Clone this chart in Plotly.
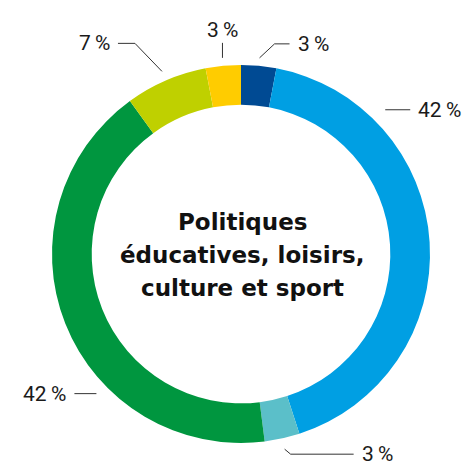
import math
import plotly.graph_objects as go

# ---- data ----
categories = ["A", "B", "C", "D", "E", "F"]
values = [3, 42, 3, 42, 7, 3]
labels = ["3\u2009%", "42\u2009%", "3\u2009%", "42\u2009%", "7\u2009%", "3\u2009%"]
center_lines = ["Politiques", "éducatives, loisirs,", "culture et sport"]

# ---- styles / layout ----
colors = ["#004a93", "#009fe3", "#5bbfc9", "#00963f", "#bfd000", "#ffcc00"]
W, H = 471, 467
CX, CY, R = 241, 254, 189
HOLE = 0.79
LINE_GAP = 33
# leader geometry per slice: (anchor angle or None for mid, anchor radius, elbow dx, elbow dy, horizontal len, text side)
leader = [
    (None, 197, 15, -14, 15, "right"),
    (45, 204, 0, 0, 25, "right"),
    (None, 200, 6, 5, 63, "right"),
    (226, 201, 0, 0, -22, "left"),
    (None, 199, -27, -28, -17, "left"),
    (None, 197, 0, -15, 0, "top"),
]

def px(x):
    return x / W

def py(y):
    return 1 - y / H

fig = go.Figure(go.Pie(
    labels=categories, values=values, hole=HOLE, sort=False,
    direction="clockwise", rotation=0,
    marker=dict(colors=colors, line=dict(width=0)),
    textinfo="none", hoverinfo="skip", showlegend=False,
    domain=dict(x=[px(CX - R), px(CX + R)], y=[py(CY + R), py(CY - R)]),
))

total = sum(values)
cum = 0
shapes, annotations = [], []
for v, lab, (ang, r, edx, edy, hl, side) in zip(values, labels, leader):
    mid = (cum + v / 2) / total * 360
    cum += v
    a = math.radians(mid if ang is None else ang)
    x0 = CX + r * math.sin(a)
    y0 = CY - r * math.cos(a)
    x1, y1 = x0 + edx, y0 + edy
    x2, y2 = x1 + hl, y1
    path = f"M {px(x0)},{py(y0)} L {px(x1)},{py(y1)} L {px(x2)},{py(y2)}"
    shapes.append(dict(type="path", xref="paper", yref="paper", path=path,
                       line=dict(color="#333333", width=1)))
    font = dict(family="Roboto, Open Sans, sans-serif", size=21, color="#1a1a1a")
    if side == "right":
        annotations.append(dict(x=px(x2 + 6), y=py(y2), xref="paper", yref="paper",
                                text=lab, showarrow=False, xanchor="left", yanchor="middle", font=font))
    elif side == "left":
        annotations.append(dict(x=px(x2 - 6), y=py(y2), xref="paper", yref="paper",
                                text=lab, showarrow=False, xanchor="right", yanchor="middle", font=font))
    else:
        annotations.append(dict(x=px(x2), y=py(y2 + 1), xref="paper", yref="paper",
                                text=lab, showarrow=False, xanchor="center", yanchor="bottom", font=font))

n = len(center_lines)
for i, line in enumerate(center_lines):
    yy = CY + 1 + (i - (n - 1) / 2) * LINE_GAP
    annotations.append(dict(x=px(CX + 1), y=py(yy), xref="paper", yref="paper", text=line,
                            showarrow=False, xanchor="center", yanchor="middle",
                            font=dict(family="DejaVu Sans, sans-serif", size=23, color="#111111", weight="bold")))

fig.update_layout(width=W, height=H, margin=dict(l=0, r=0, t=0, b=0),
                  paper_bgcolor="white", plot_bgcolor="white",
                  shapes=shapes, annotations=annotations)
fig.write_html("out.html", config={"displayModeBar": False},
               post_script="document.body.style.margin='0';document.body.style.padding='0';")
